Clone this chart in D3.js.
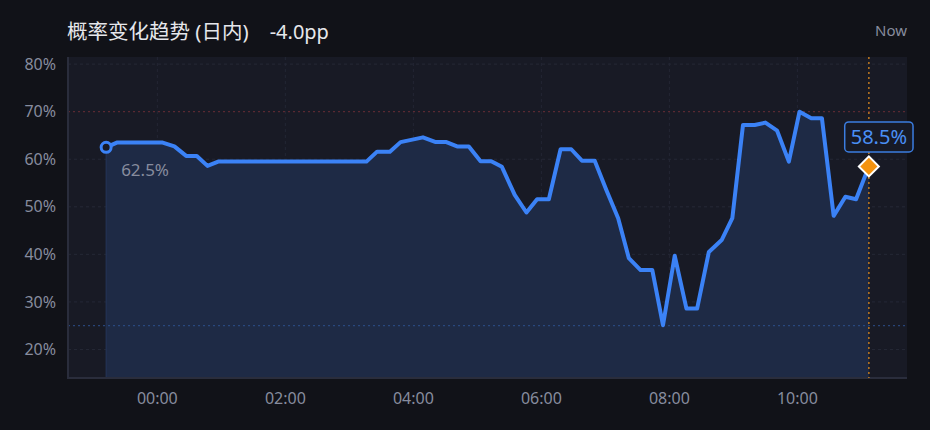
<!DOCTYPE html>
<html>
<head>
<meta charset="utf-8">
<script src="https://cdn.jsdelivr.net/npm/d3@7"></script>
<style>
    body { margin: 0; background: #111218; }
    #chart { width: 930px; height: 430px; }
    text { font-family: "Noto Sans", "Noto Sans CJK SC", sans-serif; }
</style>
</head>
<body>
<div id="chart"></div>
<script>
// Sample times (first two are from the previous evening) and probability values in %
const times = ["23:12", "23:22", "00:05", "00:16", "00:27", "00:37", "00:47", "00:57", "03:16", "03:26",
    "03:38", "03:48", "04:09", "04:21", "04:31", "04:41", "04:52", "05:03", "05:13", "05:23",
    "05:35", "05:46", "05:56", "06:07", "06:18", "06:28", "06:38", "06:50", "07:01", "07:12",
    "07:22", "07:33", "07:44", "07:54", "08:05", "08:16", "08:26", "08:37", "08:49", "08:59",
    "09:09", "09:20", "09:30", "09:41", "09:52", "10:02", "10:13", "10:23", "10:34", "10:45",
    "10:55", "11:07"];
const values = [62.5, 63.5, 63.5, 62.7, 60.7, 60.7, 58.6, 59.5, 59.5, 61.6,
    61.6, 63.6, 64.6, 63.6, 63.6, 62.7, 62.7, 59.6, 59.6, 58.4,
    52.5, 48.8, 51.6, 51.6, 62.1, 62.1, 59.7, 59.7, 53.5, 47.6,
    39.2, 36.7, 36.7, 25.1, 39.7, 28.6, 28.6, 40.5, 43.0, 47.6,
    67.2, 67.2, 67.7, 66.0, 59.5, 70.0, 68.6, 68.6, 48.1, 52.1,
    51.6, 58.5];
const yTicks = [20, 30, 40, 50, 60, 70, 80];
const xTickHours = [0, 2, 4, 6, 8, 10];
const thresholds = [70, 25];
const title = "概率变化趋势 (日内)";
const nowLabel = "Now";

// Turn "HH:MM" into dates; evening times belong to the day before
const parseTime = d3.timeParse("%Y-%m-%d %H:%M");
const data = times.map((t, i) => {
    const day = +t.slice(0, 2) >= 18 ? "2024-01-01" : "2024-01-02";
    return { time: parseTime(day + " " + t), value: values[i] };
});
const first = data[0];
const last = data[data.length - 1];

const width = 930;
const height = 430;
const margin = { top: 57, right: 23, bottom: 52, left: 68 };

const svg = d3.select("#chart")
    .append("svg")
    .attr("width", width)
    .attr("height", height);

// x domain padded by 5% of the span on each side
const span = last.time - first.time;
const xScale = d3.scaleTime()
    .domain([new Date(+first.time - span * 0.05), new Date(+last.time + span * 0.05)])
    .range([margin.left, width - margin.right]);

const yScale = d3.scaleLinear()
    .domain([14, 81.5])
    .range([height - margin.bottom, margin.top]);

const x0 = margin.left, x1 = width - margin.right;
const y0 = height - margin.bottom, y1 = margin.top;

// Plot background
svg.append("rect")
    .attr("x", x0)
    .attr("y", y1)
    .attr("width", x1 - x0)
    .attr("height", y0 - y1)
    .attr("fill", "#181a25");

// Grid lines
const xTicks = xTickHours.map(h => parseTime("2024-01-02 " + String(h).padStart(2, "0") + ":00"));
svg.append("g")
    .selectAll("line")
    .data(yTicks.filter(v => !thresholds.includes(v)))
    .join("line")
    .attr("x1", x0).attr("x2", x1)
    .attr("y1", d => yScale(d)).attr("y2", d => yScale(d))
    .attr("stroke", "#252836")
    .attr("stroke-dasharray", "3,3");
svg.append("g")
    .selectAll("line")
    .data(xTicks)
    .join("line")
    .attr("x1", d => xScale(d)).attr("x2", d => xScale(d))
    .attr("y1", y1).attr("y2", y0)
    .attr("stroke", "#232634")
    .attr("stroke-dasharray", "3,3");

// Area under the line
const area = d3.area()
    .x(d => xScale(d.time))
    .y0(y0)
    .y1(d => yScale(d.value));
svg.append("path")
    .datum(data)
    .attr("d", area)
    .attr("fill", "#1e2a45");

svg.append("line")
    .attr("x1", xScale(first.time)).attr("x2", xScale(first.time))
    .attr("y1", yScale(first.value)).attr("y2", y0)
    .attr("stroke", "#25365a")
    .attr("stroke-width", 1);

// Threshold lines (70% red, 25% blue)
svg.append("line")
    .attr("x1", x0).attr("x2", x1)
    .attr("y1", yScale(thresholds[0])).attr("y2", yScale(thresholds[0]))
    .attr("stroke", "#6a2e36")
    .attr("stroke-dasharray", "2,3");
svg.append("line")
    .attr("x1", x0).attr("x2", x1)
    .attr("y1", yScale(thresholds[1])).attr("y2", yScale(thresholds[1]))
    .attr("stroke", "#2d4f8c")
    .attr("stroke-dasharray", "2,3");

// Left and bottom frame
svg.append("path")
    .attr("d", `M${x0},${y1}V${y0}H${x1}`)
    .attr("fill", "none")
    .attr("stroke", "#2a2d3c")
    .attr("stroke-width", 2);

// "Now" marker line
svg.append("line")
    .attr("x1", xScale(last.time)).attr("x2", xScale(last.time))
    .attr("y1", y1).attr("y2", y0)
    .attr("stroke", "#c07a20")
    .attr("stroke-width", 1.5)
    .attr("stroke-dasharray", "2,3");

// The probability line
const line = d3.line()
    .x(d => xScale(d.time))
    .y(d => yScale(d.value));
svg.append("path")
    .datum(data)
    .attr("d", line)
    .attr("fill", "none")
    .attr("stroke", "#3b82f6")
    .attr("stroke-width", 4)
    .attr("stroke-linejoin", "round")
    .attr("stroke-linecap", "round");

// Start marker and its label
svg.append("circle")
    .attr("cx", xScale(first.time))
    .attr("cy", yScale(first.value))
    .attr("r", 5)
    .attr("fill", "#181a25")
    .attr("stroke", "#3b82f6")
    .attr("stroke-width", 3);
svg.append("text")
    .attr("x", xScale(first.time) + 15)
    .attr("y", yScale(first.value) + 29)
    .attr("fill", "#878c9e")
    .attr("font-size", "17px")
    .text(first.value.toFixed(1) + "%");

// Current value: label box and diamond
const lx = xScale(last.time), ly = yScale(last.value);
const label = svg.append("g");
const labelText = label.append("text")
    .attr("x", lx + 10)
    .attr("y", ly - 22)
    .attr("text-anchor", "middle")
    .attr("fill", "#4a8ff5")
    .attr("font-size", "20px")
    .text(last.value.toFixed(1) + "%");
const bb = labelText.node().getBBox();
label.insert("rect", "text")
    .attr("x", bb.x - 6)
    .attr("y", ly - 44.5)
    .attr("width", bb.width + 12)
    .attr("height", 30)
    .attr("rx", 4)
    .attr("fill", "#171a26")
    .attr("stroke", "#3b7de0")
    .attr("stroke-width", 1.5);

svg.append("path")
    .attr("d", d3.symbol(d3.symbolSquare, 200)())
    .attr("transform", `translate(${lx},${ly}) rotate(45)`)
    .attr("fill", "#f5930f")
    .attr("stroke", "#ffffff")
    .attr("stroke-width", 2);

// Axes labels
svg.append("g")
    .selectAll("text")
    .data(yTicks)
    .join("text")
    .attr("x", x0 - 12)
    .attr("y", d => yScale(d))
    .attr("dy", "0.35em")
    .attr("text-anchor", "end")
    .attr("fill", "#878c9e")
    .attr("font-size", "16px")
    .text(d => d + "%");

svg.append("g")
    .selectAll("text")
    .data(xTicks)
    .join("text")
    .attr("x", d => xScale(d))
    .attr("y", y0 + 26)
    .attr("text-anchor", "middle")
    .attr("fill", "#878c9e")
    .attr("font-size", "16px")
    .text(d => d3.timeFormat("%H:%M")(d));

// Title with the intraday change
const titleText = svg.append("text")
    .attr("x", 67)
    .attr("y", 39)
    .attr("fill", "#e6e7eb")
    .attr("font-size", "20.5px")
    .text(title);
const delta = last.value - first.value;
svg.append("text")
    .attr("x", 67 + titleText.node().getComputedTextLength() + 21)
    .attr("y", 39)
    .attr("fill", "#e6e7eb")
    .attr("font-size", "20px")
    .text((delta > 0 ? "+" : "") + delta.toFixed(1) + "pp");

svg.append("text")
    .attr("x", 907)
    .attr("y", 36)
    .attr("text-anchor", "end")
    .attr("fill", "#878c9e")
    .attr("font-size", "15px")
    .text(nowLabel);
</script>
</body>
</html>
